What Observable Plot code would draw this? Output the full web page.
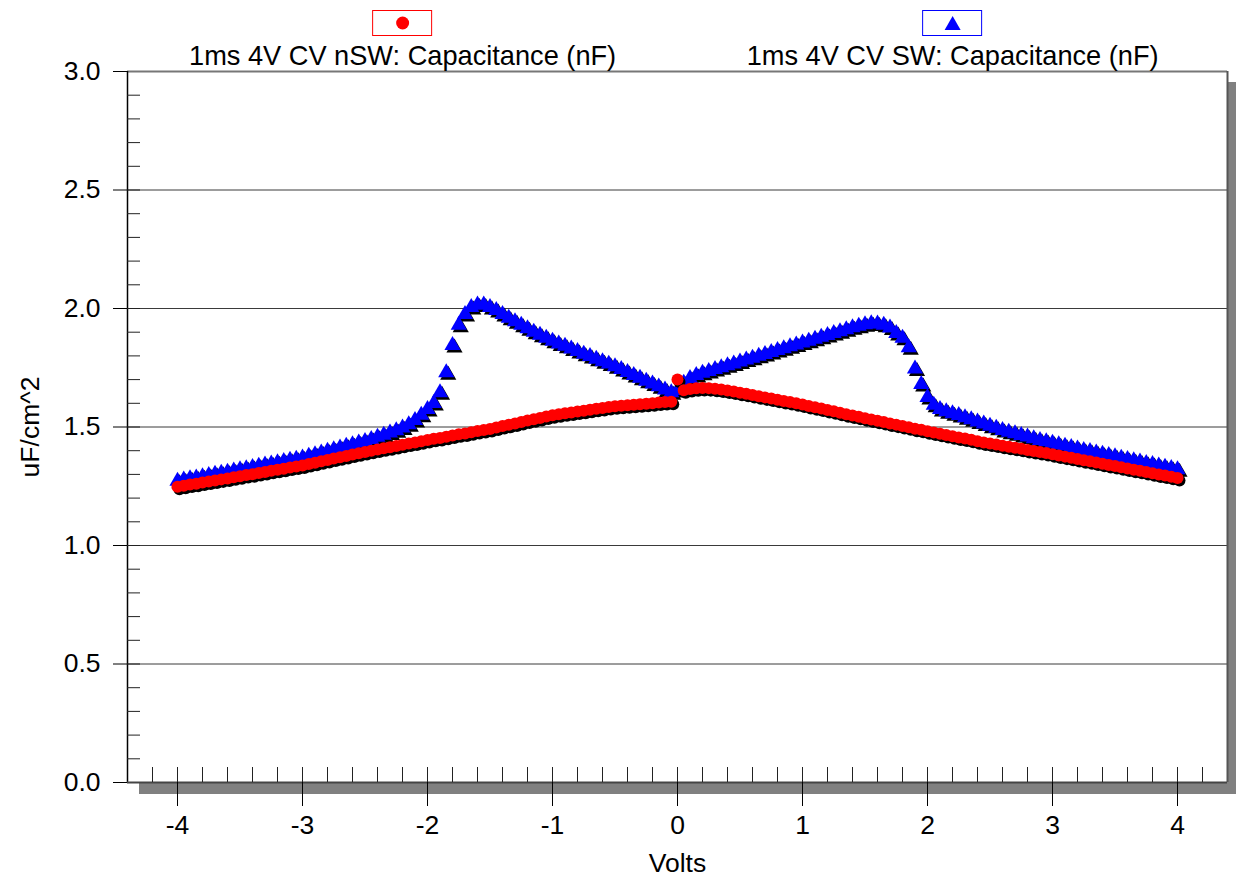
<!DOCTYPE html>
<html>
<head>
<meta charset="utf-8">
<script src="https://cdn.jsdelivr.net/npm/d3@7"></script>
<script src="https://cdn.jsdelivr.net/npm/@observablehq/plot@0.6"></script>
<style>
  html, body { margin: 0; padding: 0; background: #fff; }
  #chart { width: 1236px; height: 883px; }
</style>
</head>
<body>
<div id="chart"></div>
<script>
// ---------- data ----------
const volts = [
  -4.00,-3.95,-3.90,-3.85,-3.80,-3.75,-3.70,-3.65,-3.60,-3.55,
  -3.50,-3.45,-3.40,-3.35,-3.30,-3.25,-3.20,-3.15,-3.10,-3.05,
  -3.00,-2.95,-2.90,-2.85,-2.80,-2.75,-2.70,-2.65,-2.60,-2.55,
  -2.50,-2.45,-2.40,-2.35,-2.30,-2.25,-2.20,-2.15,-2.10,-2.05,
  -2.00,-1.95,-1.90,-1.85,-1.80,-1.75,-1.70,-1.65,-1.60,-1.55,
  -1.50,-1.45,-1.40,-1.35,-1.30,-1.25,-1.20,-1.15,-1.10,-1.05,
  -1.00,-0.95,-0.90,-0.85,-0.80,-0.75,-0.70,-0.65,-0.60,-0.55,
  -0.50,-0.45,-0.40,-0.35,-0.30,-0.25,-0.20,-0.15,-0.10,-0.05,
  0.00,
  0.05,0.10,0.15,0.20,0.25,0.30,0.35,0.40,0.45,0.50,
  0.55,0.60,0.65,0.70,0.75,0.80,0.85,0.90,0.95,1.00,
  1.05,1.10,1.15,1.20,1.25,1.30,1.35,1.40,1.45,1.50,
  1.55,1.60,1.65,1.70,1.75,1.80,1.85,1.90,1.95,2.00,
  2.05,2.10,2.15,2.20,2.25,2.30,2.35,2.40,2.45,2.50,
  2.55,2.60,2.65,2.70,2.75,2.80,2.85,2.90,2.95,3.00,
  3.05,3.10,3.15,3.20,3.25,3.30,3.35,3.40,3.45,3.50,
  3.55,3.60,3.65,3.70,3.75,3.80,3.85,3.90,3.95,4.00
];
// 1ms 4V CV nSW: Capacitance (red circles)
const capNSW = [
  1.248,1.252,1.257,1.261,1.266,1.270,1.274,1.279,1.283,1.288,
  1.292,1.297,1.301,1.306,1.310,1.315,1.320,1.324,1.329,1.333,
  1.338,1.344,1.349,1.355,1.361,1.367,1.372,1.378,1.384,1.389,
  1.395,1.400,1.405,1.410,1.415,1.420,1.425,1.430,1.435,1.440,
  1.445,1.450,1.454,1.459,1.464,1.469,1.473,1.478,1.483,1.487,
  1.492,1.498,1.504,1.509,1.515,1.521,1.527,1.533,1.538,1.544,
  1.550,1.554,1.558,1.561,1.565,1.569,1.573,1.577,1.580,1.584,
  1.588,1.590,1.592,1.594,1.596,1.598,1.600,1.603,1.605,1.607,
  1.700,
  1.655,1.660,1.663,1.665,1.664,1.661,1.658,1.654,1.650,1.645,
  1.640,1.635,1.630,1.625,1.620,1.615,1.610,1.605,1.600,1.595,
  1.589,1.583,1.578,1.572,1.566,1.560,1.554,1.549,1.543,1.537,
  1.532,1.526,1.521,1.515,1.510,1.504,1.499,1.493,1.488,1.482,
  1.477,1.472,1.466,1.461,1.456,1.451,1.446,1.440,1.435,1.430,
  1.426,1.421,1.417,1.412,1.408,1.403,1.399,1.394,1.390,1.385,
  1.380,1.375,1.370,1.365,1.360,1.355,1.350,1.345,1.340,1.335,
  1.330,1.325,1.320,1.315,1.310,1.305,1.300,1.295,1.290,1.285
];
// 1ms 4V CV SW: Capacitance (blue triangles)
const capSW = [
  1.272,1.277,1.282,1.286,1.291,1.296,1.301,1.306,1.310,1.315,
  1.320,1.325,1.330,1.335,1.340,1.345,1.350,1.355,1.360,1.365,
  1.370,1.377,1.384,1.391,1.398,1.405,1.412,1.419,1.426,1.433,
  1.440,1.448,1.457,1.466,1.475,1.485,1.496,1.510,1.528,1.550,
  1.575,1.600,1.645,1.730,1.845,1.930,1.975,2.005,2.015,2.015,
  2.005,1.992,1.975,1.960,1.945,1.930,1.915,1.901,1.888,1.875,
  1.862,1.851,1.841,1.830,1.819,1.808,1.798,1.787,1.776,1.766,
  1.755,1.743,1.731,1.718,1.706,1.694,1.682,1.670,1.657,1.645,
  1.655,
  1.685,1.705,1.718,1.727,1.735,1.743,1.751,1.759,1.767,1.775,
  1.783,1.791,1.799,1.807,1.815,1.823,1.831,1.839,1.847,1.855,
  1.863,1.871,1.879,1.887,1.895,1.903,1.911,1.919,1.926,1.932,
  1.936,1.935,1.930,1.918,1.895,1.875,1.835,1.745,1.680,1.625,
  1.592,1.575,1.565,1.557,1.549,1.540,1.531,1.522,1.513,1.504,
  1.495,1.486,1.479,1.472,1.465,1.458,1.451,1.444,1.438,1.432,
  1.426,1.420,1.414,1.408,1.402,1.397,1.391,1.386,1.380,1.375,
  1.369,1.364,1.358,1.353,1.347,1.342,1.336,1.331,1.326,1.320
];
const seriesNames = ["1ms 4V CV nSW: Capacitance (nF)", "1ms 4V CV SW: Capacitance (nF)"];
const seriesColors = ["#ff0000", "#0000ff"];
const xMajorTicks = [-4, -3, -2, -1, 0, 1, 2, 3, 4];
const xMinorTicks = [-4.2,-4.0,-3.8,-3.6,-3.4,-3.2,-3.0,-2.8,-2.6,-2.4,-2.2,-2.0,-1.8,-1.6,-1.4,-1.2,-1.0,-0.8,-0.6,-0.4,-0.2,0,0.2,0.4,0.6,0.8,1.0,1.2,1.4,1.6,1.8,2.0,2.2,2.4,2.6,2.8,3.0,3.2,3.4,3.6,3.8,4.0,4.2];
const yMajorTicks = [0, 0.5, 1.0, 1.5, 2.0, 2.5, 3.0];
const yMinorTicks = [0.1,0.2,0.3,0.4,0.5,0.6,0.7,0.8,0.9,1.0,1.1,1.2,1.3,1.4,1.5,1.6,1.7,1.8,1.9,2.0,2.1,2.2,2.3,2.4,2.5,2.6,2.7,2.8,2.9];
const gridValues = [0.5, 1.0, 1.5, 2.0, 2.5];
const xLabel = "Volts";
const yLabel = "uF/cm^2";

const rows = volts.map((v, i) => ({v, nsw: capNSW[i], sw: capSW[i]}));

const FONT = "'Liberation Sans', Arial, Helvetica, sans-serif";

const plot = Plot.plot({
  width: 1236,
  height: 883,
  marginTop: 71,
  marginLeft: 127,
  marginRight: 9,
  marginBottom: 101,
  style: {fontFamily: FONT, fontSize: "26.5px", background: "#fff", color: "#000", overflow: "visible"},
  x: {domain: [-4.4, 4.4]},
  y: {domain: [0, 3]},
  marks: [
    Plot.ruleY(gridValues, {stroke: "#3a3a3a", strokeWidth: 1}),
    Plot.ruleY([3], {stroke: "#777", strokeWidth: 2}),
    Plot.ruleX([4.4], {stroke: "#555", strokeWidth: 2}),
    Plot.dot(rows, {x: "v", y: "sw", symbol: "triangle", r: 6, fill: "#000", dx: 2, dy: 2.5}),
    Plot.dot(rows, {x: "v", y: "sw", symbol: "triangle", r: 6, fill: seriesColors[1]}),
    Plot.dot(rows, {x: "v", y: "nsw", symbol: "circle", r: 6, fill: "#000", dx: 2, dy: 2.5}),
    Plot.dot(rows, {x: "v", y: "nsw", symbol: "circle", r: 6, fill: seriesColors[0]}),
    Plot.ruleX([-4.4], {stroke: "#000", strokeWidth: 1.5}),
    Plot.ruleY([0], {stroke: "#444", strokeWidth: 2}),
    Plot.axisY(yMajorTicks, {tickSize: 14, tickPadding: 13, tickFormat: d => d.toFixed(1), fontSize: 26.5, stroke: "#000",
      label: yLabel, labelAnchor: "center", labelOffset: 107, labelArrow: "none"}),
    Plot.axisY(yMinorTicks, {tickSize: -13, tickFormat: () => "", label: null, stroke: "#222"}),
    Plot.axisX(xMajorTicks, {tickSize: 24, tickPadding: 9, tickFormat: d => `${d}`, fontSize: 26.5, stroke: "#000",
      label: xLabel, labelAnchor: "center", labelOffset: 89, labelArrow: "none"}),
    Plot.axisX(xMinorTicks, {tickSize: -15, tickFormat: () => "", label: null, stroke: "#222"})
  ]
});

document.getElementById("chart").appendChild(plot);

// drop shadow of the plot frame + legend, positioned from the plot's scales
const sx = plot.scale("x"), sy = plot.scale("y");
const svg = d3.select(plot);
const fLeft = sx.apply(-4.4), fRight = sx.apply(4.4), fTop = sy.apply(3), fBottom = sy.apply(0);
const sh = svg.insert("g", ":first-child").attr("fill", "#808080");
sh.append("rect").attr("x", fLeft + 12).attr("y", fBottom).attr("width", fRight - fLeft).attr("height", 12);
sh.append("rect").attr("x", fRight).attr("y", fTop + 11).attr("width", 10).attr("height", fBottom - fTop + 1);

const leg = svg.append("g").attr("font-family", FONT).attr("font-size", 27.2);
const legendCenters = [sx.apply(-2.195), sx.apply(2.205)];
legendCenters.forEach((cx, i) => {
  leg.append("rect").attr("x", cx - 30).attr("y", 10.5).attr("width", 59).attr("height", 25)
    .attr("fill", "#fff").attr("stroke", seriesColors[i]).attr("stroke-width", 1);
  if (i === 0) {
    leg.append("circle").attr("cx", cx).attr("cy", 23).attr("r", 6.5).attr("fill", seriesColors[0]);
  } else {
    leg.append("path").attr("d", `M${cx},${16}L${cx + 8},${30}L${cx - 8},${30}Z`).attr("fill", seriesColors[1]);
  }
  leg.append("text").attr("x", cx).attr("y", 65).attr("text-anchor", "middle").attr("fill", "#000")
    .text(seriesNames[i]);
});
</script>
</body>
</html>
